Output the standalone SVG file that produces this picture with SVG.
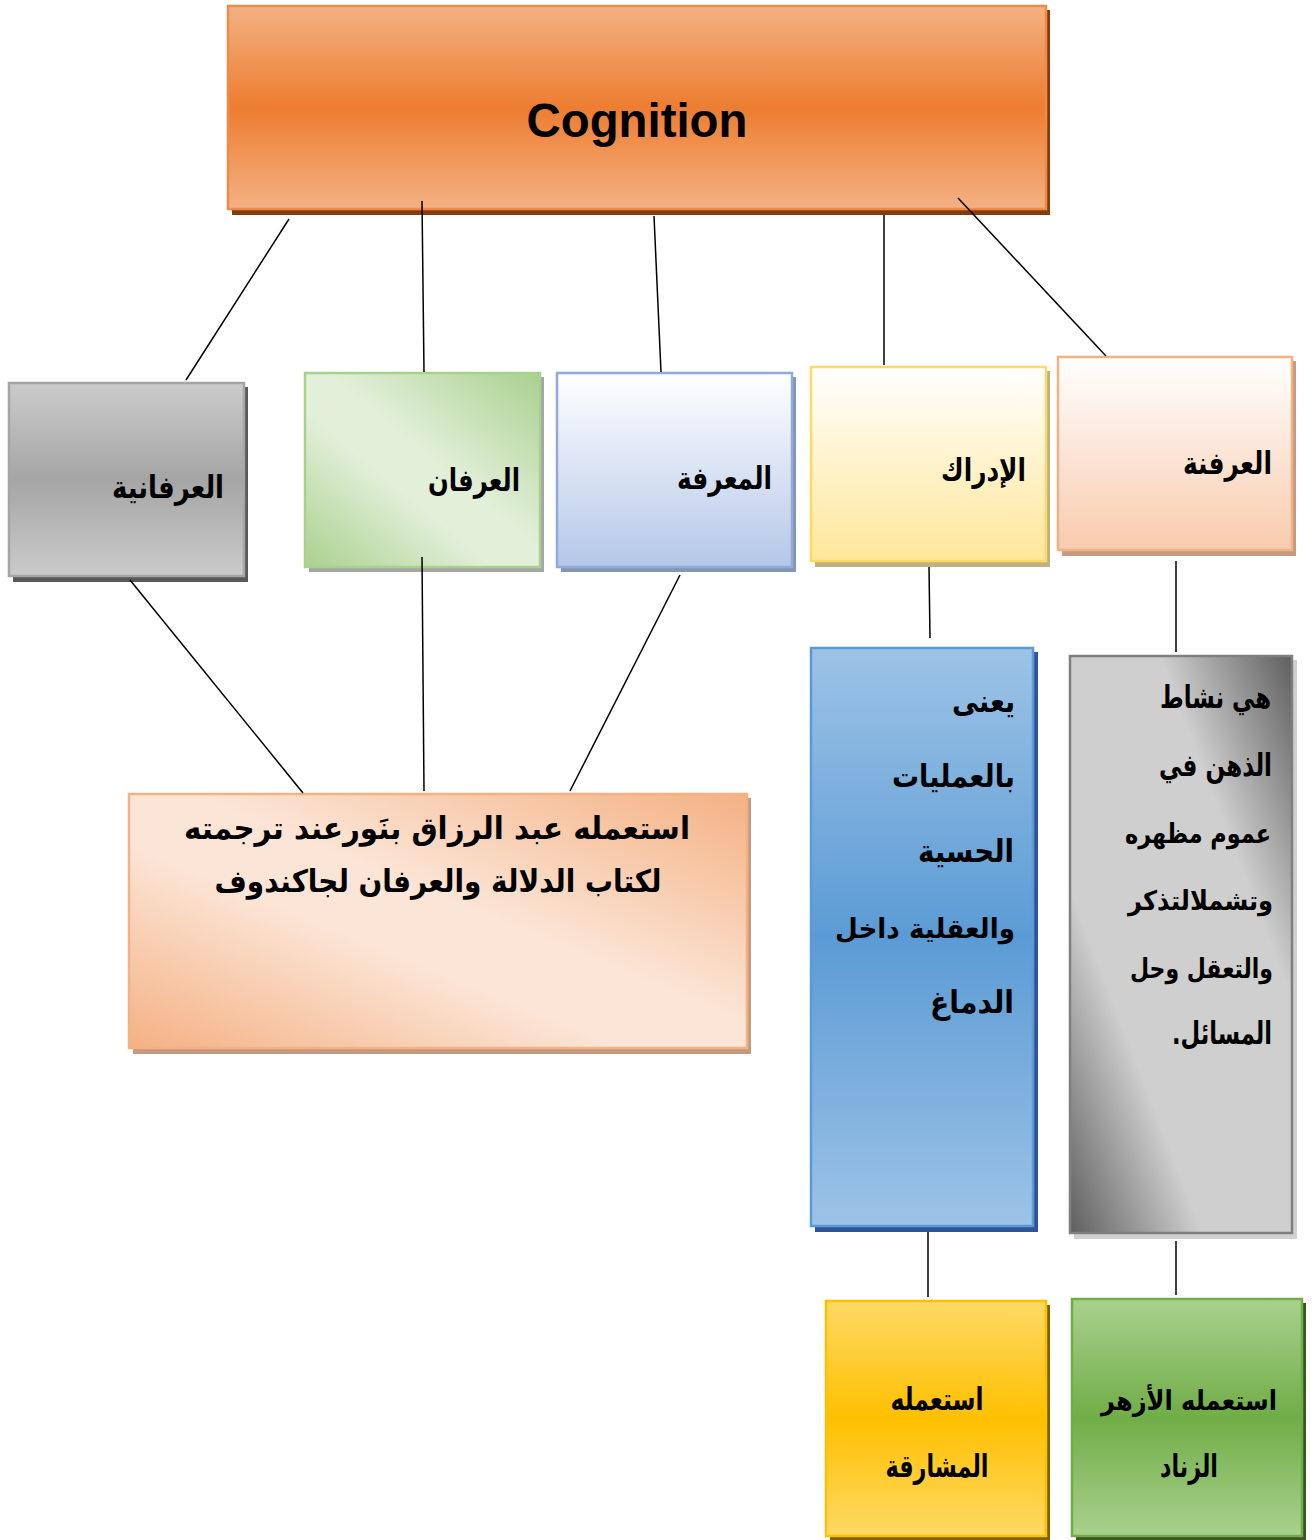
<svg xmlns="http://www.w3.org/2000/svg" width="1314" height="1540" viewBox="0 0 1314 1540">
<defs>
<linearGradient id="gTop" x1="0" y1="0" x2="0" y2="1"><stop offset="0" stop-color="#f4b183"/><stop offset="0.5" stop-color="#ed7d31"/><stop offset="1" stop-color="#f4b183"/></linearGradient>
<linearGradient id="gGray" x1="0" y1="0" x2="0" y2="1"><stop offset="0" stop-color="#cbcbcb"/><stop offset="0.5" stop-color="#a5a5a5"/><stop offset="1" stop-color="#cbcbcb"/></linearGradient>
<linearGradient id="gGreenL" x1="1" y1="0" x2="0" y2="1"><stop offset="0" stop-color="#a9d18e"/><stop offset="0.45" stop-color="#e2efd9"/><stop offset="0.6" stop-color="#e2efd9"/><stop offset="1" stop-color="#a9d18e"/></linearGradient>
<linearGradient id="gBlueL" x1="0" y1="0" x2="0" y2="1"><stop offset="0" stop-color="#ffffff"/><stop offset="1" stop-color="#b4c7e7"/></linearGradient>
<linearGradient id="gYellowL" x1="0" y1="0" x2="0" y2="1"><stop offset="0" stop-color="#ffffff"/><stop offset="1" stop-color="#ffe699"/></linearGradient>
<linearGradient id="gPeachL" x1="0" y1="0" x2="0" y2="1"><stop offset="0" stop-color="#ffffff"/><stop offset="1" stop-color="#f8cbad"/></linearGradient>
<linearGradient id="gPeachBig" x1="1" y1="0" x2="0" y2="1"><stop offset="0" stop-color="#f4b183"/><stop offset="0.45" stop-color="#fbe5d6"/><stop offset="0.6" stop-color="#fbe5d6"/><stop offset="1" stop-color="#f4b183"/></linearGradient>
<linearGradient id="gBlue" x1="0" y1="0" x2="0" y2="1"><stop offset="0" stop-color="#9dc3e6"/><stop offset="0.5" stop-color="#5b9bd5"/><stop offset="1" stop-color="#9dc3e6"/></linearGradient>
<linearGradient id="gSilver" x1="1" y1="0" x2="0" y2="1"><stop offset="0" stop-color="#5f5f5f"/><stop offset="0.3" stop-color="#cfcfcf"/><stop offset="0.7" stop-color="#cfcfcf"/><stop offset="1" stop-color="#5f5f5f"/></linearGradient>
<linearGradient id="gGold" x1="0" y1="0" x2="0" y2="1"><stop offset="0" stop-color="#ffd966"/><stop offset="0.5" stop-color="#ffc000"/><stop offset="1" stop-color="#ffd966"/></linearGradient>
<linearGradient id="gGreen" x1="0" y1="0" x2="0" y2="1"><stop offset="0" stop-color="#a9d18e"/><stop offset="0.5" stop-color="#70ad47"/><stop offset="1" stop-color="#a9d18e"/></linearGradient>
</defs>
<style>
.ar{font-family:"DejaVu Sans","Noto Sans",sans-serif;font-weight:bold;fill:#000;font-size:31px;}
.sm{font-size:27px;}
.con line{stroke:#000;stroke-width:1.5;}
.box{stroke-width:2.5;}
</style>

<g id="cognition">
<rect x="232" y="10" width="818" height="205" fill="#843c0c"/>
<rect x="228" y="6" width="818" height="203" fill="url(#gTop)" stroke="#f08a48" class="box"/>
<text x="637" y="137" text-anchor="middle" font-family="'Liberation Sans',Arial,sans-serif" font-weight="bold" font-size="48" textLength="221" lengthAdjust="spacingAndGlyphs">Cognition</text>
</g>

<g id="irfaniya">
<rect x="13" y="387" width="235" height="195" fill="#595959"/>
<rect x="9" y="383" width="235" height="193" fill="url(#gGray)" stroke="#a5a5a5" class="box"/>
<text class="ar" x="224" y="498" direction="rtl" text-anchor="start" textLength="112" lengthAdjust="spacingAndGlyphs">العرفانية</text>
</g>

<g id="irfan">
<rect x="309" y="377" width="235" height="195" fill="#a5a5a5"/>
<rect x="305" y="373" width="235" height="194" fill="url(#gGreenL)" stroke="#a9d18e" class="box"/>
<text class="ar" x="520" y="491" direction="rtl" text-anchor="start" textLength="92" lengthAdjust="spacingAndGlyphs">العرفان</text>
</g>

<g id="maarifa">
<rect x="561" y="377" width="235" height="195" fill="#8496b0"/>
<rect x="557" y="373" width="235" height="194" fill="url(#gBlueL)" stroke="#8faadc" class="box"/>
<text class="ar" x="772" y="489" direction="rtl" text-anchor="start" textLength="95" lengthAdjust="spacingAndGlyphs">المعرفة</text>
</g>

<g id="idrak">
<rect x="815" y="371" width="235" height="196" fill="#bfb183"/>
<rect x="811" y="367" width="235" height="194" fill="url(#gYellowL)" stroke="#ffd966" class="box"/>
<text class="ar" x="1026" y="481" direction="rtl" text-anchor="start" textLength="85" lengthAdjust="spacingAndGlyphs">الإدراك</text>
</g>

<g id="irfana">
<rect x="1062" y="361" width="234" height="195" fill="#c49a80"/>
<rect x="1058" y="357" width="234" height="193" fill="url(#gPeachL)" stroke="#f4b183" class="box"/>
<text class="ar" x="1272" y="474" direction="rtl" text-anchor="start" textLength="89" lengthAdjust="spacingAndGlyphs">العرفنة</text>
</g>

<g id="abdelrazzaq">
<rect x="133" y="798" width="618" height="256" fill="#c49a80"/>
<rect x="129" y="794" width="618" height="254" fill="url(#gPeachBig)" stroke="#f4b183" class="box"/>
<text class="ar" x="437" y="839" direction="rtl" text-anchor="middle" textLength="506" lengthAdjust="spacingAndGlyphs">استعمله عبد الرزاق بنَورعند ترجمته</text>
<text class="ar" x="438" y="892" direction="rtl" text-anchor="middle" textLength="447" lengthAdjust="spacingAndGlyphs">لكتاب الدلالة والعرفان لجاكندوف</text>
</g>

<g id="yuna">
<rect x="815" y="652" width="223" height="580" fill="#2e5597"/>
<rect x="811" y="648" width="222" height="578" fill="url(#gBlue)" stroke="#5b9bd5" class="box"/>
<text class="ar" x="1015" y="712" direction="rtl" text-anchor="start" textLength="63" lengthAdjust="spacingAndGlyphs">يعنى</text>
<text class="ar" x="1015" y="787" direction="rtl" text-anchor="start" textLength="123" lengthAdjust="spacingAndGlyphs">بالعمليات</text>
<text class="ar" x="1014" y="862" direction="rtl" text-anchor="start" textLength="96" lengthAdjust="spacingAndGlyphs">الحسية</text>
<text class="ar sm" x="1015" y="938" direction="rtl" text-anchor="start" textLength="180" lengthAdjust="spacingAndGlyphs">والعقلية داخل</text>
<text class="ar" x="1014" y="1013" direction="rtl" text-anchor="start" textLength="84" lengthAdjust="spacingAndGlyphs">الدماغ</text>
</g>

<g id="nashat">
<rect x="1074" y="660" width="223" height="579" fill="#d0d0d0"/>
<rect x="1070" y="656" width="222" height="577" fill="url(#gSilver)" stroke="#7f7f7f" class="box"/>
<text class="ar" x="1271" y="708" direction="rtl" text-anchor="start" textLength="111" lengthAdjust="spacingAndGlyphs">هي نشاط</text>
<text class="ar" x="1272" y="776" direction="rtl" text-anchor="start" textLength="113" lengthAdjust="spacingAndGlyphs">الذهن في</text>
<text class="ar sm" x="1271" y="843" direction="rtl" text-anchor="start" textLength="146" lengthAdjust="spacingAndGlyphs">عموم مظهره</text>
<text class="ar sm" x="1273" y="910" direction="rtl" text-anchor="start" textLength="145" lengthAdjust="spacingAndGlyphs">وتشملالتذكر</text>
<text class="ar sm" x="1273" y="978" direction="rtl" text-anchor="start" textLength="143" lengthAdjust="spacingAndGlyphs">والتعقل وحل</text>
<text class="ar" x="1272" y="1044" direction="rtl" text-anchor="start" textLength="100" lengthAdjust="spacingAndGlyphs">المسائل.</text>
</g>

<g id="mashariqa">
<rect x="830" y="1305" width="220" height="235" fill="#7f6000"/>
<rect x="826" y="1301" width="220" height="235" fill="url(#gGold)" stroke="#ffc000" class="box"/>
<text class="ar" x="937" y="1410" direction="rtl" text-anchor="middle" textLength="93" lengthAdjust="spacingAndGlyphs">استعمله</text>
<text class="ar" x="937" y="1477" direction="rtl" text-anchor="middle" textLength="103" lengthAdjust="spacingAndGlyphs">المشارقة</text>
</g>

<g id="zinad">
<rect x="1076" y="1303" width="230" height="237" fill="#385723"/>
<rect x="1072" y="1299" width="230" height="237" fill="url(#gGreen)" stroke="#70ad47" class="box"/>
<text class="ar sm" x="1189" y="1410" direction="rtl" text-anchor="middle" textLength="176" lengthAdjust="spacingAndGlyphs">استعمله الأزهر</text>
<text class="ar" x="1189" y="1477" direction="rtl" text-anchor="middle" textLength="58" lengthAdjust="spacingAndGlyphs">الزناد</text>
</g>

<g id="connectors" class="con">
<line x1="289" y1="219" x2="186" y2="380"/>
<line x1="422" y1="201" x2="424" y2="372"/>
<line x1="654" y1="216" x2="661" y2="372"/>
<line x1="884" y1="215" x2="884" y2="365"/>
<line x1="958" y1="198" x2="1106" y2="356"/>
<line x1="130" y1="580" x2="303" y2="793"/>
<line x1="422" y1="557" x2="424" y2="791"/>
<line x1="680" y1="575" x2="570" y2="791"/>
<line x1="929" y1="567" x2="930" y2="638"/>
<line x1="1176" y1="561" x2="1176" y2="652"/>
<line x1="928" y1="1232" x2="928" y2="1297"/>
<line x1="1176" y1="1241" x2="1176" y2="1295"/>
</g>
</svg>
